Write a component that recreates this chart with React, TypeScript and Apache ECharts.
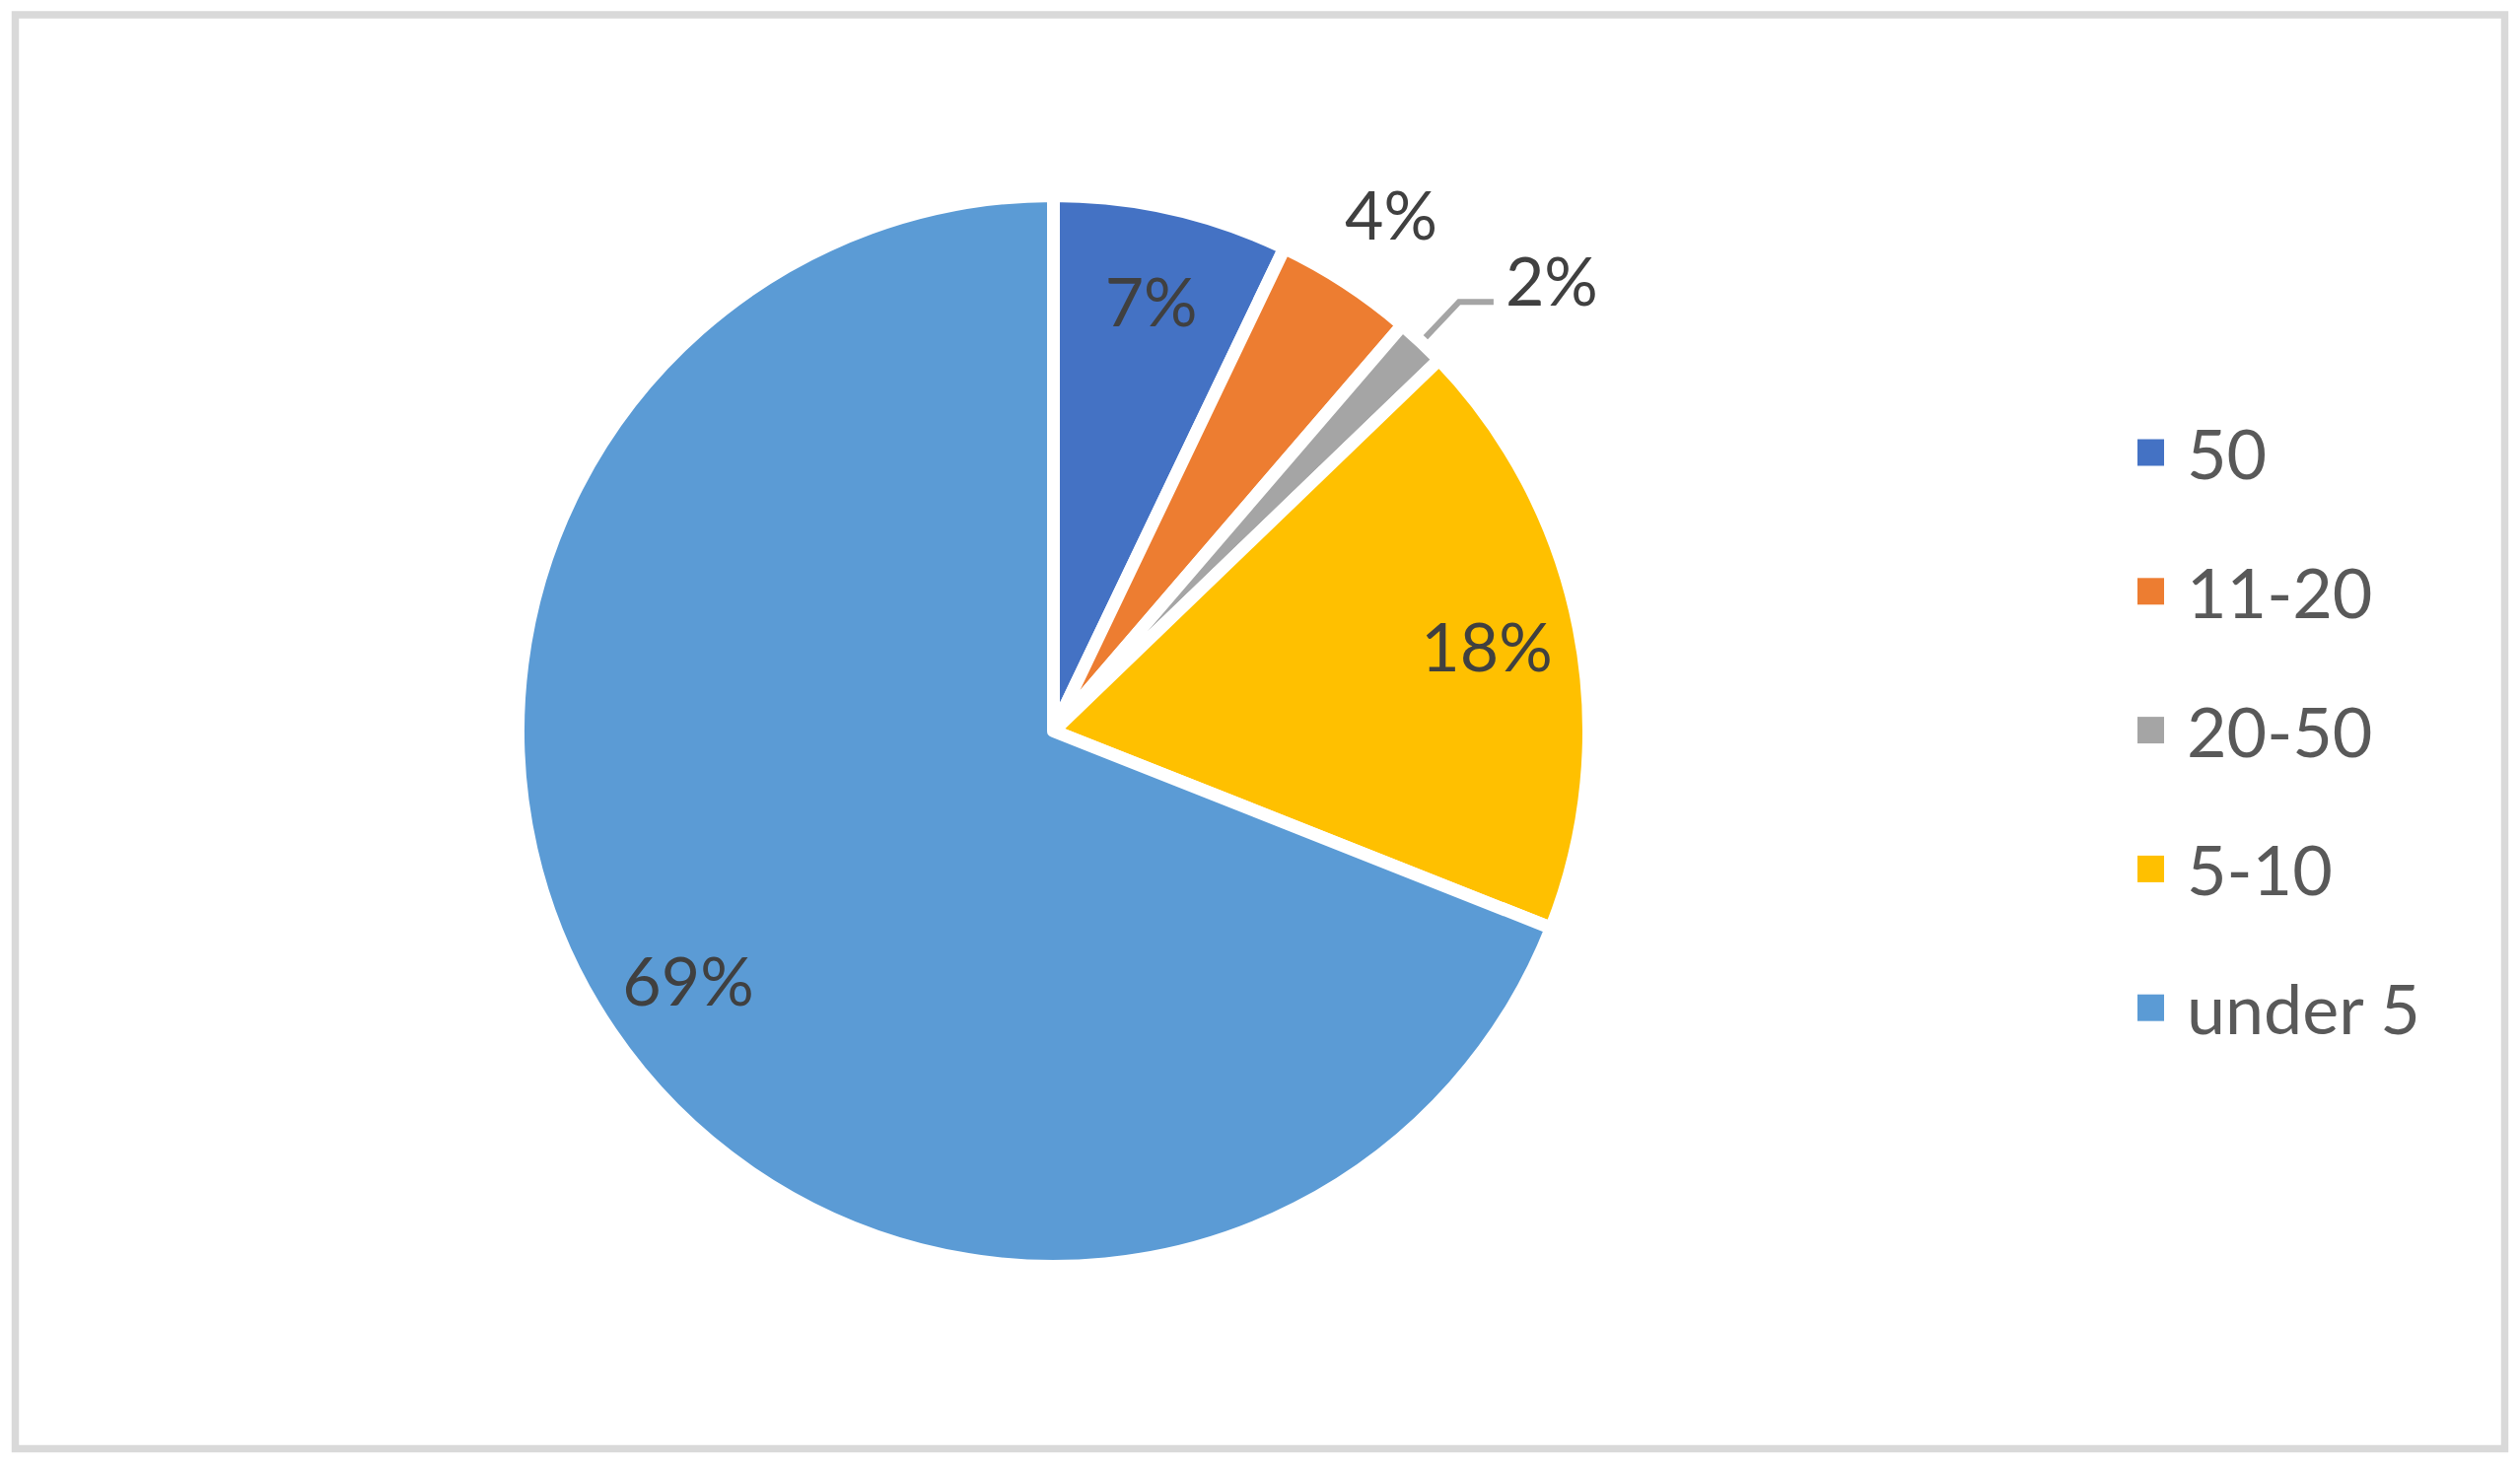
import React, { useEffect, useRef } from "react";
import * as echarts from "echarts";

const categories = ["50", "11-20", "20-50", "5-10", "under 5"];
const shares = [7.1, 4.2, 1.5, 18.2, 69.0];
const colors = ["#4472C4", "#ED7D31", "#A5A5A5", "#FFC000", "#5B9BD5"];

export default function App() {
  const ref = useRef<HTMLDivElement>(null);
  useEffect(() => {
    document.body.style.margin = "0";
    const chart = echarts.init(ref.current!, null, { renderer: "svg" });
    const center = [1068.5, 741.5];
    const font = "Lato";
    const fmt = (p: any) => Math.round(p.percent) + "%";
    const fmtRaised = (p: any) => Math.round(p.percent) + "%\n ";
    const baseData = categories.map((name, i) => ({ name, value: shares[i] }));
    const labelText = { fontFamily: font, fontSize: 68, color: "#404040" };
    const hiddenItem = { color: "rgba(0,0,0,0)", borderWidth: 0 };
    const off = { label: { show: false } };

    const option: any = {
      animation: false,
      color: colors,
      tooltip: { show: false },
      graphic: [
        {
          type: "rect",
          shape: { x: 15.5, y: 15, width: 2525, height: 1454.5 },
          style: { fill: "rgba(0,0,0,0)", stroke: "#d9d9d9", lineWidth: 7.5 },
          silent: true,
        },
      ],
      legend: {
        orient: "vertical",
        left: 2163,
        top: 419,
        itemWidth: 27,
        itemHeight: 27,
        itemGap: 70.8,
        icon: "rect",
        selectedMode: false,
        itemStyle: { borderWidth: 0 },
        textStyle: {
          fontFamily: font,
          fontSize: 70,
          color: "#595959",
          padding: [0, 0, 0, 18],
        },
        data: categories,
      },
      series: [
        {
          type: "pie",
          center,
          radius: 543,
          startAngle: 90,
          clockwise: true,
          avoidLabelOverlap: false,
          silent: true,
          emphasis: { disabled: true },
          itemStyle: { borderColor: "#ffffff", borderWidth: 13 },
          label: { show: false },
          labelLine: { show: false },
          data: baseData.map((d) =>
            d.value < 2
              ? {
                  ...d,
                  label: {
                    show: true,
                    position: "outside",
                    formatter: fmtRaised,
                    ...labelText,
                    lineHeight: 46,
                    distanceToLabelLine: 12,
                  },
                  labelLine: {
                    show: true,
                    length: 56,
                    length2: 35,
                    lineStyle: { color: "#A5A5A5", width: 6 },
                  },
                }
              : d
          ),
        },
        {
          type: "pie",
          center,
          radius: [400, 490],
          startAngle: 90,
          clockwise: true,
          avoidLabelOverlap: false,
          silent: true,
          emphasis: { disabled: true },
          itemStyle: hiddenItem,
          label: { show: true, position: "inside", formatter: fmt, ...labelText },
          labelLine: { show: false },
          data: baseData.map((d) => (d.value >= 5 ? d : { ...d, ...off })),
        },
        {
          type: "pie",
          center,
          radius: [600, 648],
          startAngle: 90,
          clockwise: true,
          avoidLabelOverlap: false,
          silent: true,
          emphasis: { disabled: true },
          itemStyle: hiddenItem,
          label: { show: true, position: "inside", formatter: fmt, ...labelText },
          labelLine: { show: false },
          data: baseData.map((d) =>
            d.value >= 2 && d.value < 5 ? d : { ...d, ...off }
          ),
        },
      ],
    };
    chart.setOption(option);
    return () => chart.dispose();
  }, []);
  return (
    <div
      ref={ref}
      style={{
        width: 2556,
        height: 1484,
        background: "#ffffff",
      }}
    />
  );
}
